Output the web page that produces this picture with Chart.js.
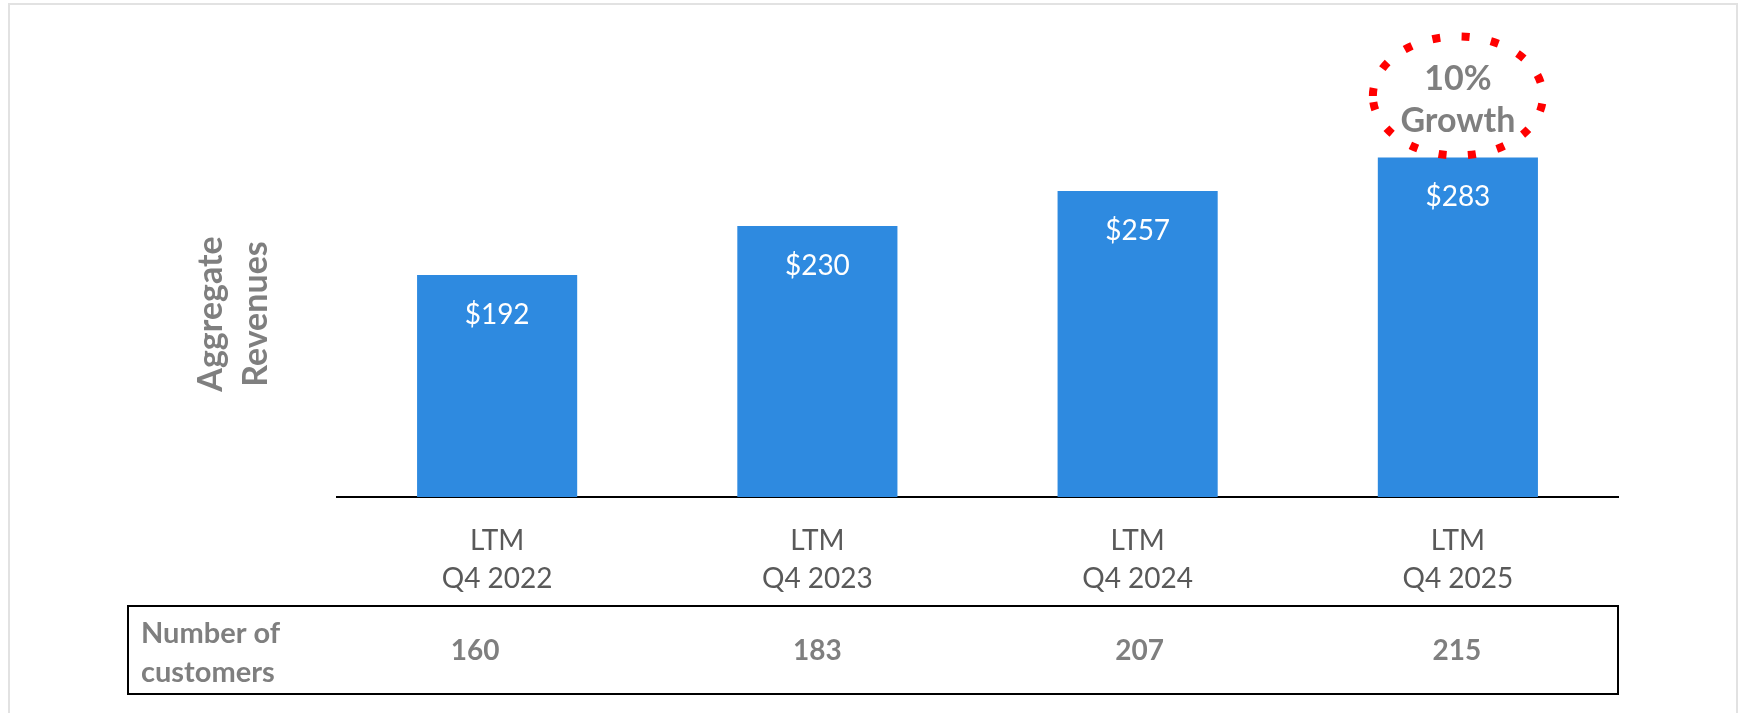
<!DOCTYPE html>
<html>
<head>
<meta charset="utf-8">
<script src="https://cdn.jsdelivr.net/npm/chart.js@4.4.1/dist/chart.umd.min.js"></script>
<style>
html,body{margin:0;padding:0;background:#fff;overflow:hidden;}
#wrap{position:relative;width:1741px;height:713px;}
#frame{position:absolute;left:8px;top:3px;width:1730px;height:760px;border:2px solid #e2e2e2;box-sizing:border-box;}
canvas{position:absolute;left:0;top:0;}
</style>
</head>
<body>
<div id="wrap"><div id="frame"></div><canvas id="grafico" width="1741" height="713"></canvas></div>
<script>
// dados
var xLabels = [["LTM","Q4 2022"],["LTM","Q4 2023"],["LTM","Q4 2024"],["LTM","Q4 2025"]];
var revenues = [192, 230, 257, 283];
var customers = [160, 183, 207, 215];
var growthText = ["10%", "Growth"];
var yTitle = ["Aggregate", "Revenues"];
var tableTitle = ["Number of", "customers"];

var gray = '#7f7f7f';

// textos extras: rótulos, título do eixo, elipse e tabela
var extras = {
  id: 'extras',
  afterDatasetsDraw: function(chart) {
    var ctx = chart.ctx;
    var bars = chart.getDatasetMeta(0).data;
    var area = chart.chartArea;
    ctx.save();

    // rótulos das barras
    ctx.fillStyle = '#ffffff';
    ctx.font = '28px Lato';
    ctx.textAlign = 'center';
    ctx.textBaseline = 'alphabetic';
    bars.forEach(function(b, i) {
      ctx.fillText('$' + revenues[i], b.x, b.y + 49);
    });

    // título do eixo y
    ctx.fillStyle = gray;
    ctx.font = 'bold 34px Lato';
    var midY = (area.top + area.bottom) / 2 + 30;
    [222, 267].forEach(function(x, i) {
      ctx.save();
      ctx.translate(x, midY);
      ctx.rotate(-Math.PI / 2);
      ctx.fillText(yTitle[i], 0, 0);
      ctx.restore();
    });

    // elipse de crescimento
    var last = bars[bars.length - 1];
    ctx.beginPath();
    ctx.ellipse(last.x, last.y - 61.5, 85, 59.5, 0, Math.PI, 3 * Math.PI);
    ctx.setLineDash([8, 21.5]);
    ctx.lineWidth = 8;
    ctx.strokeStyle = '#ff0000';
    ctx.stroke();
    ctx.setLineDash([]);
    ctx.fillStyle = gray;
    ctx.font = 'bold 34px Lato';
    ctx.fillText(growthText[0], last.x, last.y - 67);
    ctx.fillText(growthText[1], last.x, last.y - 25);

    // tabela de clientes
    var tLeft = 128, tTop = 606, tBottom = 694;
    ctx.strokeStyle = '#000000';
    ctx.lineWidth = 2;
    ctx.strokeRect(tLeft, tTop, area.right - tLeft, tBottom - tTop);
    ctx.textAlign = 'left';
    ctx.font = 'bold 29px Lato';
    ctx.fillText(tableTitle[0], 141, 643);
    ctx.fillText(tableTitle[1], 141, 682);
    ctx.textAlign = 'center';
    ctx.font = 'bold 28px Lato';
    var shift = [-22, 0, 2, -1];
    bars.forEach(function(b, i) {
      ctx.fillText(String(customers[i]), b.x + shift[i], 660);
    });
    ctx.restore();
  }
};

new Chart(document.getElementById("grafico"), {
    type: 'bar',
    data: {
      labels: xLabels,
      datasets: [
        {
          label: "Aggregate Revenues",
          backgroundColor: 'rgb(46, 138, 224)',
          data: revenues,
          barPercentage: 0.5,
          categoryPercentage: 1
        }
      ]
    },
    plugins: [extras],
    options:
    {
      responsive: false,
      animation: false,
      layout: { padding: { left: 337, right: 123, top: 71, bottom: 0 } },
      plugins: {
        legend: { display: false },
        tooltip: { enabled: false }
      },
      scales: {
        x: {
          grid: { display: false, drawTicks: false },
          border: { display: true, color: '#000000', width: 2 },
          ticks: {
            color: '#595959',
            padding: 25,
            font: { family: 'Lato', size: 28, lineHeight: 1.36 }
          },
          afterFit: function(scale) { scale.height = 216; }
        },
        y: {
          display: false,
          min: 20,
          max: 350
        }
      }
    }
});
</script>
</body>
</html>
